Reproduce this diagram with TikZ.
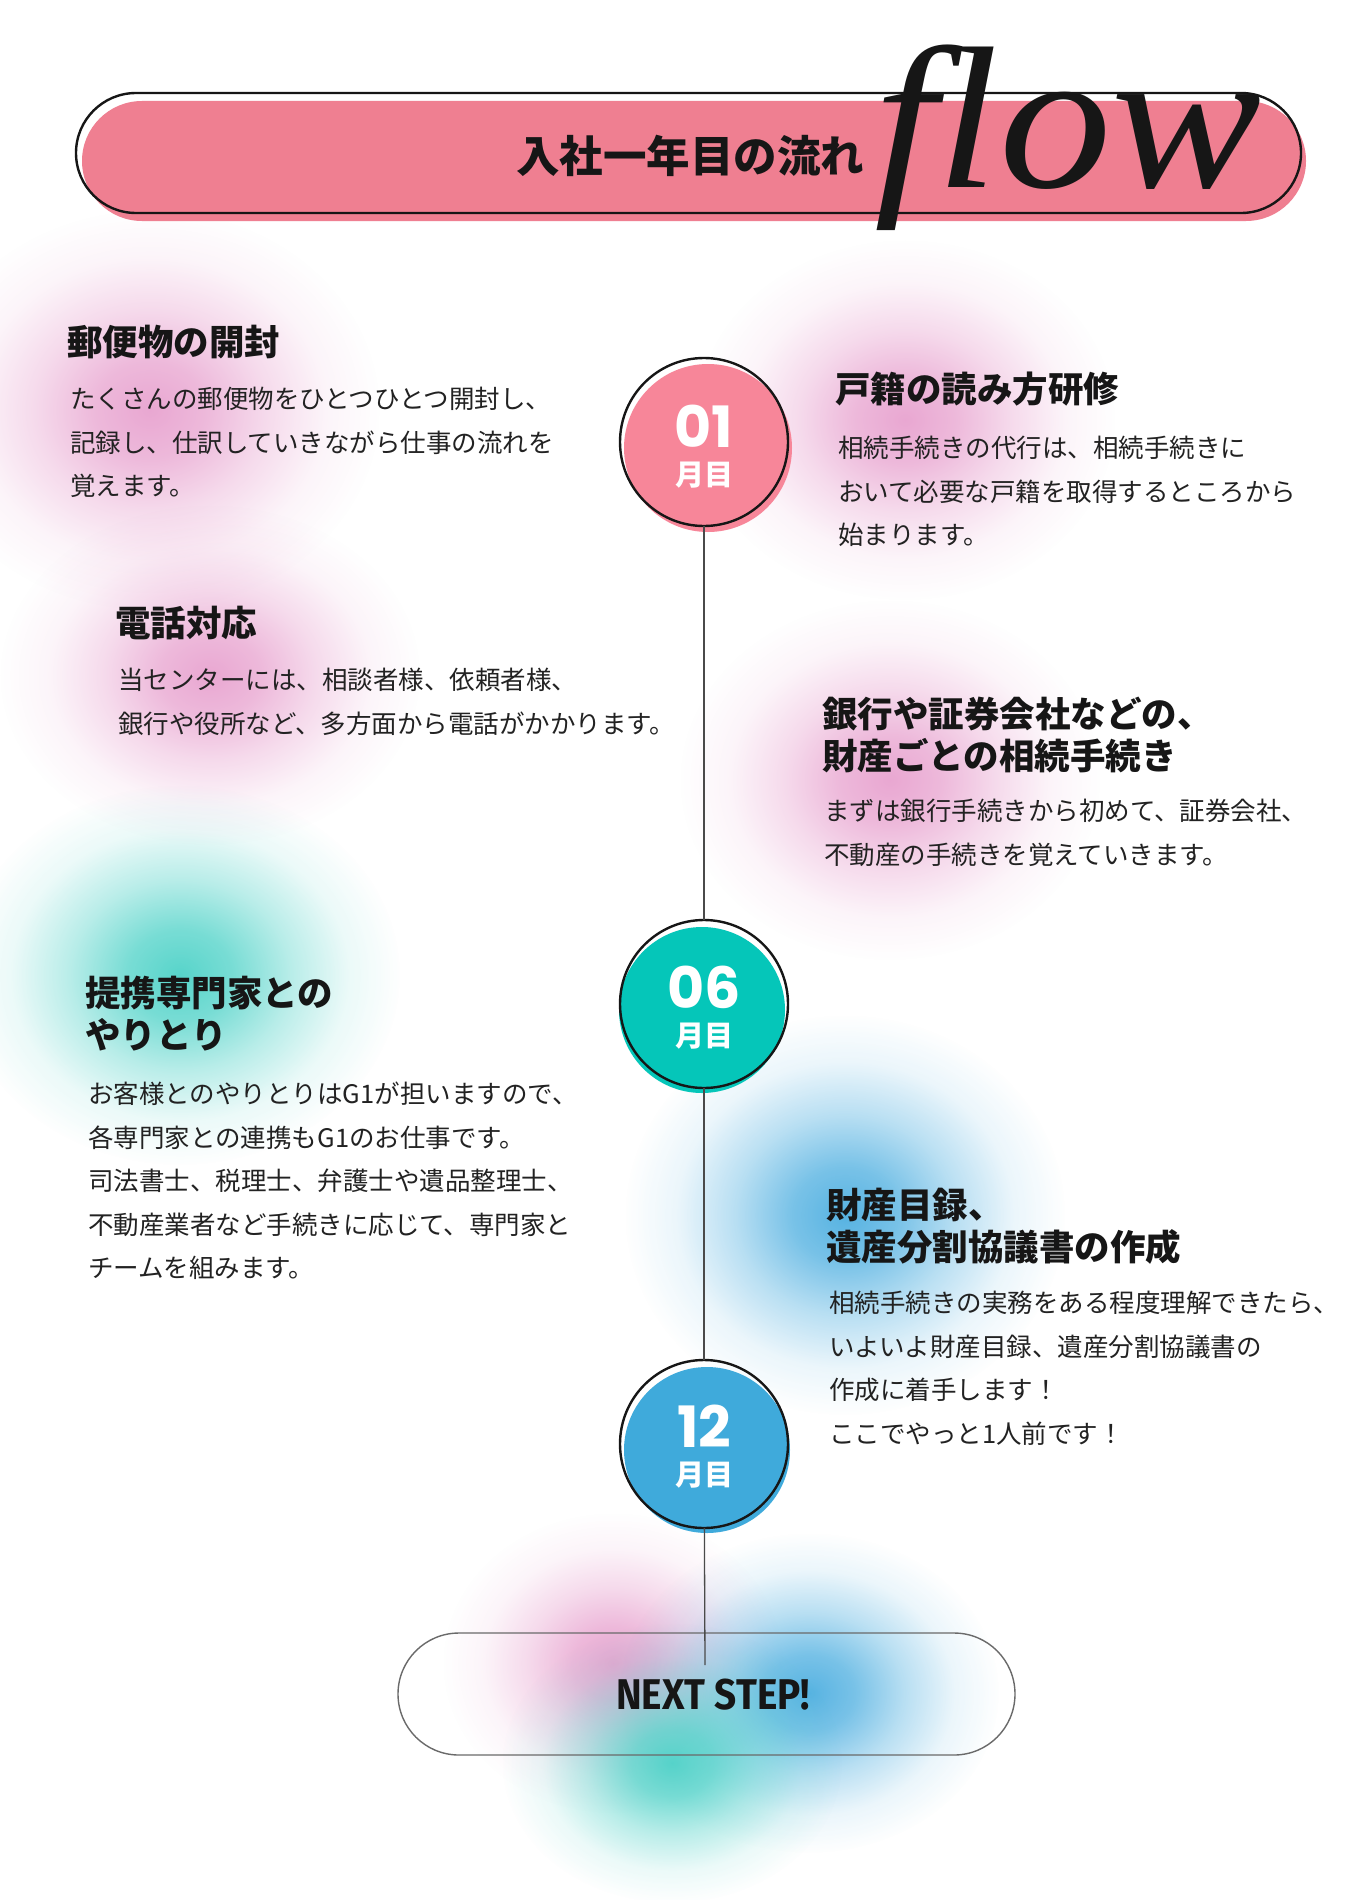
\documentclass[tikz,border=0pt]{standalone}
\usepackage{fontspec}
\setmainfont{Noto Sans CJK JP}
\newfontfamily\numfont{Poppins}
\newfontfamily\stepfont{Fira Sans}[FakeStretch=0.9]
\newfontfamily\flowfont{Liberation Serif}
\usetikzlibrary{calc,positioning,fadings}
\definecolor{flowink}{HTML}{161616}
\definecolor{flowtext}{HTML}{222222}
\definecolor{flowline}{HTML}{4A4A4A}
\definecolor{flowgray}{HTML}{6A6A6A}
\definecolor{flowbanner}{HTML}{EF7F91}
\definecolor{flowpink}{HTML}{F78699}
\definecolor{flowteal}{HTML}{05C6B9}
\definecolor{flowblue}{HTML}{3FAADB}
\definecolor{blobpink}{HTML}{E79ECD}
\definecolor{blobteal}{HTML}{45D0C5}
\definecolor{blobblue}{HTML}{45ABDF}
\pgfdeclareradialshading{softspotshade}{\pgfpointorigin}{%
  color(0bp)=(white); color(6bp)=(white!80!black); color(12.5bp)=(white!42!black);
  color(19bp)=(white!12!black); color(25bp)=(black); color(50bp)=(black)}
\pgfdeclarefading{softspot}{\pgfuseshading{softspotshade}}
\newcommand\monthnum[1]{{\numfont\fontsize{57}{38}\selectfont #1}}
\tikzset{
  blobspot/.style={path fading=softspot, fill opacity=.9},
  headtext/.style={font=\bfseries\fontsize{35.5}{42}\selectfont, text=flowink,
    align=left, anchor=north west, inner sep=0pt},
  bodytext/.style={font=\fontsize{25.5}{43.5}\selectfont, text=flowtext,
    align=left, anchor=north west, inner sep=0pt},
  monthring/.style={circle, draw=flowink, line width=2.4pt, minimum size=168pt,
    inner sep=0pt, outer sep=0pt},
  monthlabel/.style={font=\bfseries\fontsize{29}{38}\selectfont, text=white,
    align=center, inner sep=0pt},
  timeline/.style={draw=flowline, line width=1.3pt},
  steppill/.style={draw=flowgray, line width=1.4pt, rounded corners=61pt,
    minimum width=617pt, minimum height=122pt, inner sep=0pt},
  steplabel/.style={font=\stepfont\bfseries\fontsize{43}{43}\selectfont, text=flowink, inner sep=0pt},
  bannerbox/.style={draw=flowink, line width=2.4pt, rounded corners=60pt,
    minimum width=1225pt, minimum height=120pt, inner sep=0pt},
  titletext/.style={font=\bfseries\fontsize{43.5}{43.5}\selectfont, text=flowink, inner sep=0pt},
  flowscript/.style={font=\flowfont\itshape\fontsize{150}{150}\selectfont, text=flowink,
    inner sep=0pt, xscale=1.5, yscale=1.35}
}

\begin{document}
\begin{tikzpicture}[x=1pt,y=-1pt]
  % canvas in image pixels, y runs downwards
  \useasboundingbox[fill=white] (0,0) rectangle (1348,1900);

  \fill[blobpink, blobspot] (150,410) ellipse (230 and 200);
  \fill[blobpink, blobspot] (905,420) ellipse (210 and 180);
  \fill[blobpink, blobspot] (210,675) ellipse (210 and 170);
  \fill[blobpink, blobspot] (890,780) ellipse (210 and 180);
  \fill[blobteal, blobspot] (180,975) ellipse (220 and 190);
  \fill[blobblue, blobspot] (845,1215) ellipse (220 and 200);
  \fill[blobpink, blobspot] (613,1663) ellipse (170 and 150);
  \fill[blobblue, blobspot] (809,1693) ellipse (190 and 160);
  \fill[blobteal, blobspot] (672,1763) ellipse (170 and 140);

  \fill[flowbanner, rounded corners=60pt] (82,101) rectangle (1306,221);
  \node[bannerbox] (banner) at (688.5,153) {};
  \node[titletext] (title) at (690,156) {入社一年目の流れ};
  \node[flowscript, anchor=base west] (flowword) at (874,187) {flow};

  \fill[flowpink] (708,448) circle[radius=84];
  \fill[flowteal] (702,1010) circle[radius=83];
  \fill[flowblue] (707,1450) circle[radius=83];
  \node[monthring] (m01) at (704,442) {};
  \node[monthring] (m06) at (704,1004) {};
  \node[monthring] (m12) at (704,1444) {};
  \node[monthlabel] (l01) at ($(m01)+(0,5)$) {\monthnum{01}\\月目};
  \node[monthlabel] (l06) at ($(m06)+(0,4)$) {\monthnum{06}\\月目};
  \node[monthlabel] (l12) at ($(m12)+(0,3)$) {\monthnum{12}\\月目};

  \node[steppill] (next) at (706.5,1694) {};
  \coordinate (stepend) at (705,1665);
  \draw[timeline] (m01) -- (m06);
  \draw[timeline] (m06) -- (m12);
  \draw[timeline] (m12) -- (stepend);
  \node[steplabel] (nextlabel) at (713,1695) {NEXT STEP!};

  \node[headtext] (h1) at (67,325) {郵便物の開封};
  \node[bodytext] (b1) at (70,387) {たくさんの郵便物をひとつひとつ開封し、\\記録し、仕訳していきながら仕事の流れを\\覚えます。};

  \node[headtext] (h2) at (835,372) {戸籍の読み方研修};
  \node[bodytext] (b2) at (838,436) {相続手続きの代行は、相続手続きに\\おいて必要な戸籍を取得するところから\\始まります。};

  \node[headtext] (h3) at (115,606) {電話対応};
  \node[bodytext] (b3) at (118,668) {当センターには、相談者様、依頼者様、\\銀行や役所など、多方面から電話がかかります。};

  \node[headtext] (h4) at (822,697) {銀行や証券会社などの、\\財産ごとの相続手続き};
  \node[bodytext] (b4) at (824,799) {まずは銀行手続きから初めて、証券会社、\\不動産の手続きを覚えていきます。};

  \node[headtext] (h5) at (85,976) {提携専門家との\\やりとり};
  \node[bodytext] (b5) at (88,1082) {お客様とのやりとりはG1が担いますので、\\各専門家との連携もG1のお仕事です。\\司法書士、税理士、弁護士や遺品整理士、\\不動産業者など手続きに応じて、専門家と\\チームを組みます。};

  \node[headtext] (h6) at (826,1188) {財産目録、\\遺産分割協議書の作成};
  \node[bodytext] (b6) at (829,1291) {相続手続きの実務をある程度理解できたら、\\いよいよ財産目録、遺産分割協議書の\\作成に着手します！\\ここでやっと1人前です！};
\end{tikzpicture}
\end{document}
